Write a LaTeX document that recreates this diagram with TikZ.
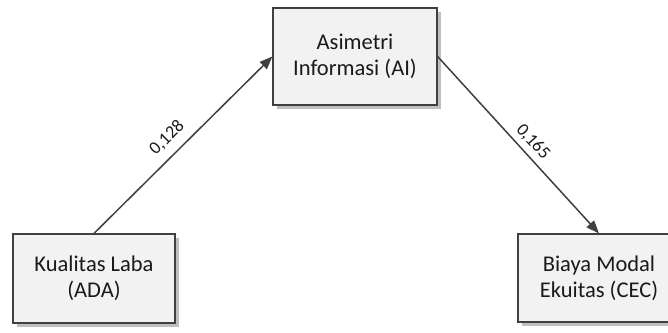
\documentclass[tikz,border=0pt]{standalone}
\usepackage{fontspec}
\setmainfont{Carlito}
\usetikzlibrary{arrows.meta,shadows}
\definecolor{boxfill}{HTML}{F2F2F2}
\definecolor{boxline}{HTML}{404040}
\definecolor{shadowc}{HTML}{BFBFBF}
\definecolor{txt}{HTML}{1A1A1A}
\tikzset{
  box/.style={draw=boxline, line width=1.2pt, fill=boxfill, align=center,
    text=txt, inner sep=0pt,
    font=\fontsize{22.5}{26}\selectfont,
    drop shadow={shadow xshift=4pt, shadow yshift=-4pt, fill=shadowc, opacity=1}},
  arr/.style={draw=boxline, line width=1.5pt, -{Triangle[length=13pt,width=10pt]}},
  lab/.style={text=txt, font=\fontsize{18}{20}\selectfont, inner sep=0pt}
}
\begin{document}
\begin{tikzpicture}[x=1pt,y=-1pt]
\useasboundingbox (0,0) rectangle (668,332);
\node[box, minimum width=164pt, minimum height=97pt] (ai) at (355,56.5) {Asimetri\\Informasi (AI)};
\node[box, minimum width=162pt, minimum height=89pt] (ada) at (94,278.5) {Kualitas Laba\\(ADA)};
\node[box, minimum width=162pt, minimum height=88pt] (cec) at (599,278) {Biaya Modal\\Ekuitas (CEC)};
\draw[arr] (ada.north) -- (ai.west);
\draw[arr] (ai.east) -- (cec.north);
\node[lab, rotate=44.7] (l1) at (167,138) {0,128};
\node[lab, rotate=-47.7] (l2) at (533,142) {0,165};
\end{tikzpicture}
\end{document}
